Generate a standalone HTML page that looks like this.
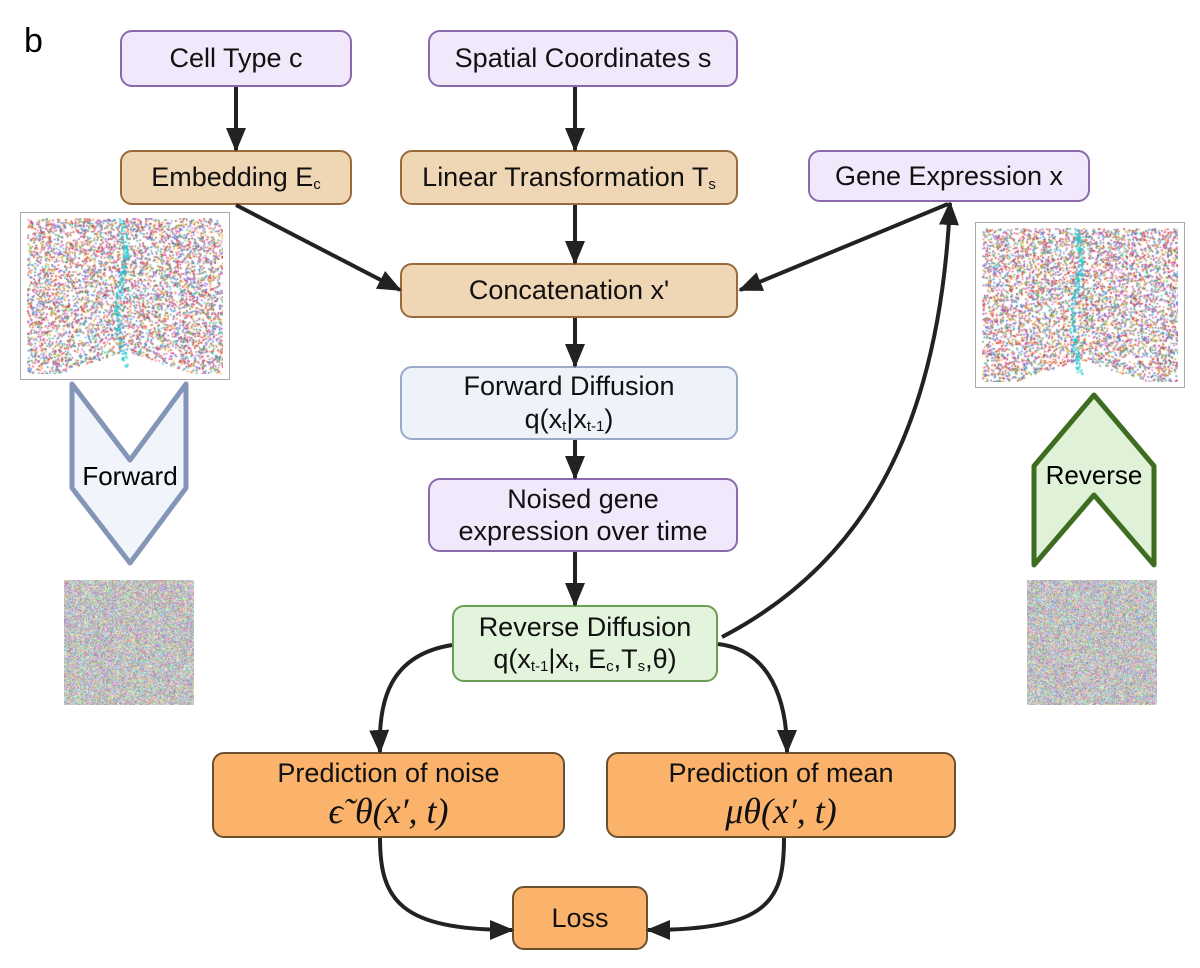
<!DOCTYPE html>
<html><head><meta charset="utf-8"><style>
body{margin:0;background:#fff;}
#w{position:relative;width:1200px;height:968px;overflow:hidden;font-family:"Liberation Sans",sans-serif;}
.b{position:absolute;box-sizing:border-box;border-radius:12px;border:2px solid;display:flex;flex-direction:column;align-items:center;justify-content:center;font-size:27px;color:#111;text-align:center;line-height:1.2;}
.p{background:#f1e9fb;border-color:#8a6aac;}
.t{background:#efd6b4;border-color:#9a6a3a;}
.fd{background:#eef3fa;border-color:#9aaac8;}
.g{background:#e3f4dc;border-color:#6a9e52;}
.o{background:#fbb26b;border-color:#6b5030;}
.m{font-family:"Liberation Serif",serif;font-style:italic;font-size:36px;}
canvas{position:absolute;}
sub{font-size:15px;vertical-align:-3px;}
</style></head><body><div id="w">
<div style="position:absolute;left:24px;top:22px;font-size:34px;">b</div>
<div class="b p" style="left:120px;top:30px;width:232px;height:57px;">Cell Type c</div>
<div class="b p" style="left:428px;top:30px;width:310px;height:57px;">Spatial Coordinates s</div>
<div class="b t" style="left:120px;top:150px;width:232px;height:55px;"><span>Embedding E<sub>c</sub></span></div>
<div class="b t" style="left:400px;top:150px;width:338px;height:55px;"><span>Linear Transformation T<sub>s</sub></span></div>
<div class="b p" style="left:808px;top:150px;width:282px;height:52px;">Gene Expression x</div>
<div class="b t" style="left:400px;top:263px;width:338px;height:55px;">Concatenation x'</div>
<div class="b fd" style="left:400px;top:366px;width:338px;height:74px;"><span>Forward Diffusion</span><span>q(x<sub>t</sub>|x<sub>t-1</sub>)</span></div>
<div class="b p" style="left:428px;top:478px;width:310px;height:74px;"><span>Noised gene</span><span>expression over time</span></div>
<div class="b g" style="left:452px;top:605px;width:266px;height:77px;"><span>Reverse Diffusion</span><span>q(x<sub>t-1</sub>|x<sub>t</sub>, E<sub>c</sub>,T<sub>s</sub>,θ)</span></div>
<div class="b o" style="left:212px;top:752px;width:353px;height:86px;"><span>Prediction of noise</span><span class="m">ϵ˜θ(x′, t)</span></div>
<div class="b o" style="left:606px;top:752px;width:350px;height:86px;"><span>Prediction of mean</span><span class="m">μθ(x′, t)</span></div>
<div class="b o" style="left:512px;top:886px;width:136px;height:64px;">Loss</div>
<div style="position:absolute;left:20px;top:212px;width:210px;height:168px;box-sizing:border-box;border:1.5px solid #aaa;"></div>
<div style="position:absolute;left:975px;top:222px;width:210px;height:166px;box-sizing:border-box;border:1.5px solid #aaa;"></div>
<canvas id="s1" width="196" height="156" style="left:27px;top:218px"></canvas>
<canvas id="s2" width="196" height="154" style="left:982px;top:228px"></canvas>
<canvas id="n1" width="130" height="125" style="left:64px;top:580px"></canvas>
<canvas id="n2" width="130" height="125" style="left:1027px;top:580px"></canvas>
<svg width="1200" height="968" style="position:absolute;left:0;top:0">
<defs>
<marker id="h" viewBox="0 0 24 20" refX="22" refY="10" markerWidth="24" markerHeight="20" orient="auto" markerUnits="userSpaceOnUse"><path d="M0,0 L24,10 L0,20 Z" fill="#222"/></marker></defs>
<g stroke="#222" stroke-width="4" fill="none" marker-end="url(#h)">
<line x1="236" y1="87" x2="236" y2="150"/>
<line x1="575" y1="87" x2="575" y2="150"/>
<line x1="236" y1="205" x2="400" y2="290"/>
<line x1="575" y1="205" x2="575" y2="263"/>
<line x1="948" y1="204" x2="740" y2="290"/>
<line x1="575" y1="318" x2="575" y2="366"/>
<line x1="575" y1="440" x2="575" y2="478"/>
<line x1="575" y1="552" x2="575" y2="605"/>
<path d="M722,637 C870,560 940,420 950,203"/>
<path d="M452,645 C390,655 378,700 380,752"/>
<path d="M718,644 C770,650 787,700 787,752"/>
<path d="M380,838 C380,900 400,930 512,930"/>
<path d="M784,838 C784,900 770,930 648,930"/>
</g>
<polygon points="72,384 130,460 186,384 186,488 130,563 72,488" fill="#f1f4fa" stroke="#8496b8" stroke-width="5" stroke-linejoin="round"/>
<text x="130" y="485" font-size="26" text-anchor="middle" font-family="Liberation Sans">Forward</text>
<polygon points="1034,466 1094,395 1154,466 1154,565 1094,495 1034,565" fill="#dff1d6" stroke="#3e6d22" stroke-width="5" stroke-linejoin="round"/>
<text x="1094" y="484" font-size="26" text-anchor="middle" font-family="Liberation Sans">Reverse</text>
</svg>
</div>
<script>
var cols=["#e8435a","#f08a3a","#4a7fd4","#9b59d0","#3cb371","#e86fc0","#d4b43a","#5ab4e0","#c0392b","#888"];
var seed=7;function r(){seed=(seed*16807)%2147483647;return seed/2147483647;}
function sc(id){var c=document.getElementById(id),x=c.getContext("2d"),W=c.width,H=c.height;
for(var i=0;i<5500;i++){var px=r()*W,py=r()*H;if(py>H*0.85&&Math.abs(px-W/2)<(py-H*0.85)*3)continue;x.fillStyle=cols[Math.floor(r()*cols.length)];x.fillRect(px,py,1.6,1.6);}
x.fillStyle="#1ec8d0";for(var i=0;i<220;i++){var py=r()*H*0.95,px=W*0.48+(r()-0.5)*6+Math.sin(py/20)*4;x.fillRect(px,py,1.5,1.5);}}
function nz(id){var c=document.getElementById(id),x=c.getContext("2d"),d=x.createImageData(c.width,c.height);
for(var i=0;i<d.data.length;i+=4){d.data[i]=130+r()*125;d.data[i+1]=130+r()*125;d.data[i+2]=130+r()*125;d.data[i+3]=255;}x.putImageData(d,0,0);}
sc("s1");sc("s2");nz("n1");nz("n2");
</script>
</body></html>
